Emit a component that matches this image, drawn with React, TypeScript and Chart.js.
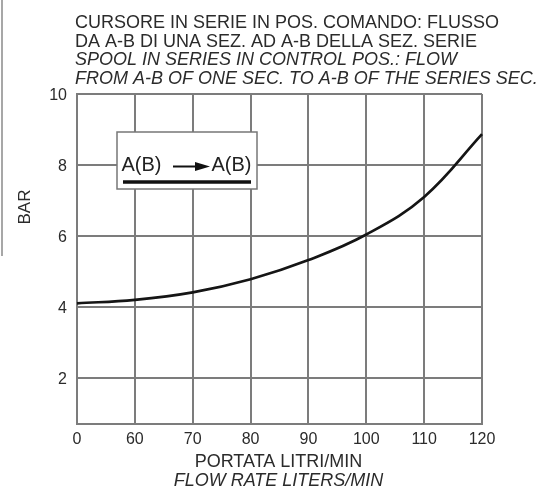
import React, { useEffect, useRef } from "react";
import { Chart, registerables } from "chart.js";

Chart.register(...registerables);

const flowLabels = ["0", "60", "70", "80", "90", "100", "110", "120"];
const pressureBar = [4.1, 4.2, 4.41, 4.78, 5.32, 6.04, 7.1, 8.87];
const yTickValues = [2, 4, 6, 8, 10];

const titleLinesIt = [
  "CURSORE IN SERIE IN POS. COMANDO: FLUSSO",
  "DA A-B DI UNA SEZ. AD A-B DELLA SEZ. SERIE",
];
const titleLinesEn = [
  "SPOOL IN SERIES IN CONTROL POS.: FLOW",
  "FROM A-B OF ONE SEC. TO A-B OF THE SERIES SEC.",
];
const xTitleIt = "PORTATA LITRI/MIN";
const xTitleEn = "FLOW RATE LITERS/MIN";
const yTitle = "BAR";
const legendFrom = "A(B)";
const legendTo = "A(B)";

const FONT = '"Liberation Sans", Arial, sans-serif';
const GRID = "#7c7c7c";
const TEXT = "#2b2b2b";

const textPlugin = {
  id: "textPlugin",
  afterDraw(chart: any) {
    const ctx = chart.ctx as CanvasRenderingContext2D;
    const area = chart.chartArea;
    ctx.save();
    ctx.strokeStyle = "#8a8a8a";
    ctx.lineWidth = 1.5;
    ctx.beginPath();
    ctx.moveTo(2, 0);
    ctx.lineTo(2, 256);
    ctx.stroke();

    ctx.fillStyle = TEXT;
    ctx.textBaseline = "middle";
    ctx.textAlign = "left";
    const tx = area.left - 2;
    const lh = 18.4;
    ctx.font = `18px ${FONT}`;
    titleLinesIt.forEach((t, i) => ctx.fillText(t, tx, 23.5 + i * lh));
    ctx.font = `italic 18px ${FONT}`;
    titleLinesEn.forEach((t, i) => ctx.fillText(t, tx, 23.5 + (i + 2) * lh));

    const cx = (area.left + area.right) / 2 - 1;
    ctx.textAlign = "center";
    ctx.font = `18px ${FONT}`;
    ctx.fillText(xTitleIt, cx, area.bottom + 38);
    ctx.font = `italic 18px ${FONT}`;
    ctx.fillText(xTitleEn, cx, area.bottom + 56.5);

    ctx.save();
    ctx.translate(25, 207);
    ctx.rotate(-Math.PI / 2);
    ctx.font = `17px ${FONT}`;
    ctx.fillText(yTitle, 0, 0);
    ctx.restore();

    const bx = area.left + 40;
    const by = area.top + 38;
    const bw = 140;
    const bh = 57;
    ctx.fillStyle = "#ffffff";
    ctx.fillRect(bx, by, bw, bh);
    ctx.strokeStyle = "#777777";
    ctx.lineWidth = 1.5;
    ctx.strokeRect(bx, by, bw, bh);

    ctx.fillStyle = "#222222";
    ctx.font = `20px ${FONT}`;
    ctx.textAlign = "left";
    ctx.textBaseline = "middle";
    ctx.fillText(legendFrom, bx + 4.5, by + 33);
    ctx.fillText(legendTo, bx + 94.5, by + 33);

    const ay = by + 34.5;
    ctx.strokeStyle = "#111111";
    ctx.lineWidth = 2;
    ctx.beginPath();
    ctx.moveTo(bx + 56, ay);
    ctx.lineTo(bx + 82, ay);
    ctx.stroke();
    ctx.fillStyle = "#111111";
    ctx.beginPath();
    ctx.moveTo(bx + 78, ay - 4.5);
    ctx.lineTo(bx + 93, ay);
    ctx.lineTo(bx + 78, ay + 4.5);
    ctx.closePath();
    ctx.fill();

    ctx.lineWidth = 3.5;
    ctx.beginPath();
    ctx.moveTo(bx + 6, by + 50);
    ctx.lineTo(bx + 134, by + 50);
    ctx.stroke();

    ctx.restore();
  },
};

export default function App() {
  const ref = useRef<HTMLCanvasElement | null>(null);

  useEffect(() => {
    if (!ref.current) return;
    const chart = new Chart(ref.current, {
      type: "line",
      data: {
        labels: flowLabels,
        datasets: [
          {
            data: pressureBar,
            borderColor: "#151515",
            borderWidth: 2.7,
            pointRadius: 0,
            fill: false,
            tension: 0.4,
          },
        ],
      },
      options: {
        animation: false,
        responsive: false,
        devicePixelRatio: 1,
        layout: { padding: { left: 0, top: 94, right: 60, bottom: 0 } },
        plugins: {
          legend: { display: false },
          tooltip: { enabled: false },
          title: { display: false },
        },
        scales: {
          x: {
            type: "category",
            offset: false,
            grid: { color: GRID, lineWidth: 2, drawTicks: false, offset: false },
            border: { color: GRID, width: 2 },
            ticks: {
              color: TEXT,
              font: { family: FONT, size: 16 },
              padding: 6,
              maxRotation: 0,
              autoSkip: false,
            },
            afterFit: (s: any) => {
              s.height = 64;
            },
          },
          y: {
            type: "linear",
            min: 0.7,
            max: 10,
            grid: { color: GRID, lineWidth: 2, drawTicks: false },
            border: { color: GRID, width: 2 },
            ticks: {
              color: TEXT,
              font: { family: FONT, size: 16 },
              padding: 10,
              labelOffset: 2,
            },
            afterBuildTicks: (s: any) => {
              s.ticks = yTickValues.map((v) => ({ value: v }));
            },
            afterFit: (s: any) => {
              s.width = 77;
            },
          },
        },
      },
      plugins: [textPlugin],
    } as any);
    return () => chart.destroy();
  }, []);

  return (
    <div
      style={{
        position: "absolute",
        left: 0,
        top: 0,
        width: 542,
        height: 488,
        background: "#ffffff",
      }}
    >
      <canvas ref={ref} width={542} height={488} style={{ width: 542, height: 488 }} />
    </div>
  );
}
